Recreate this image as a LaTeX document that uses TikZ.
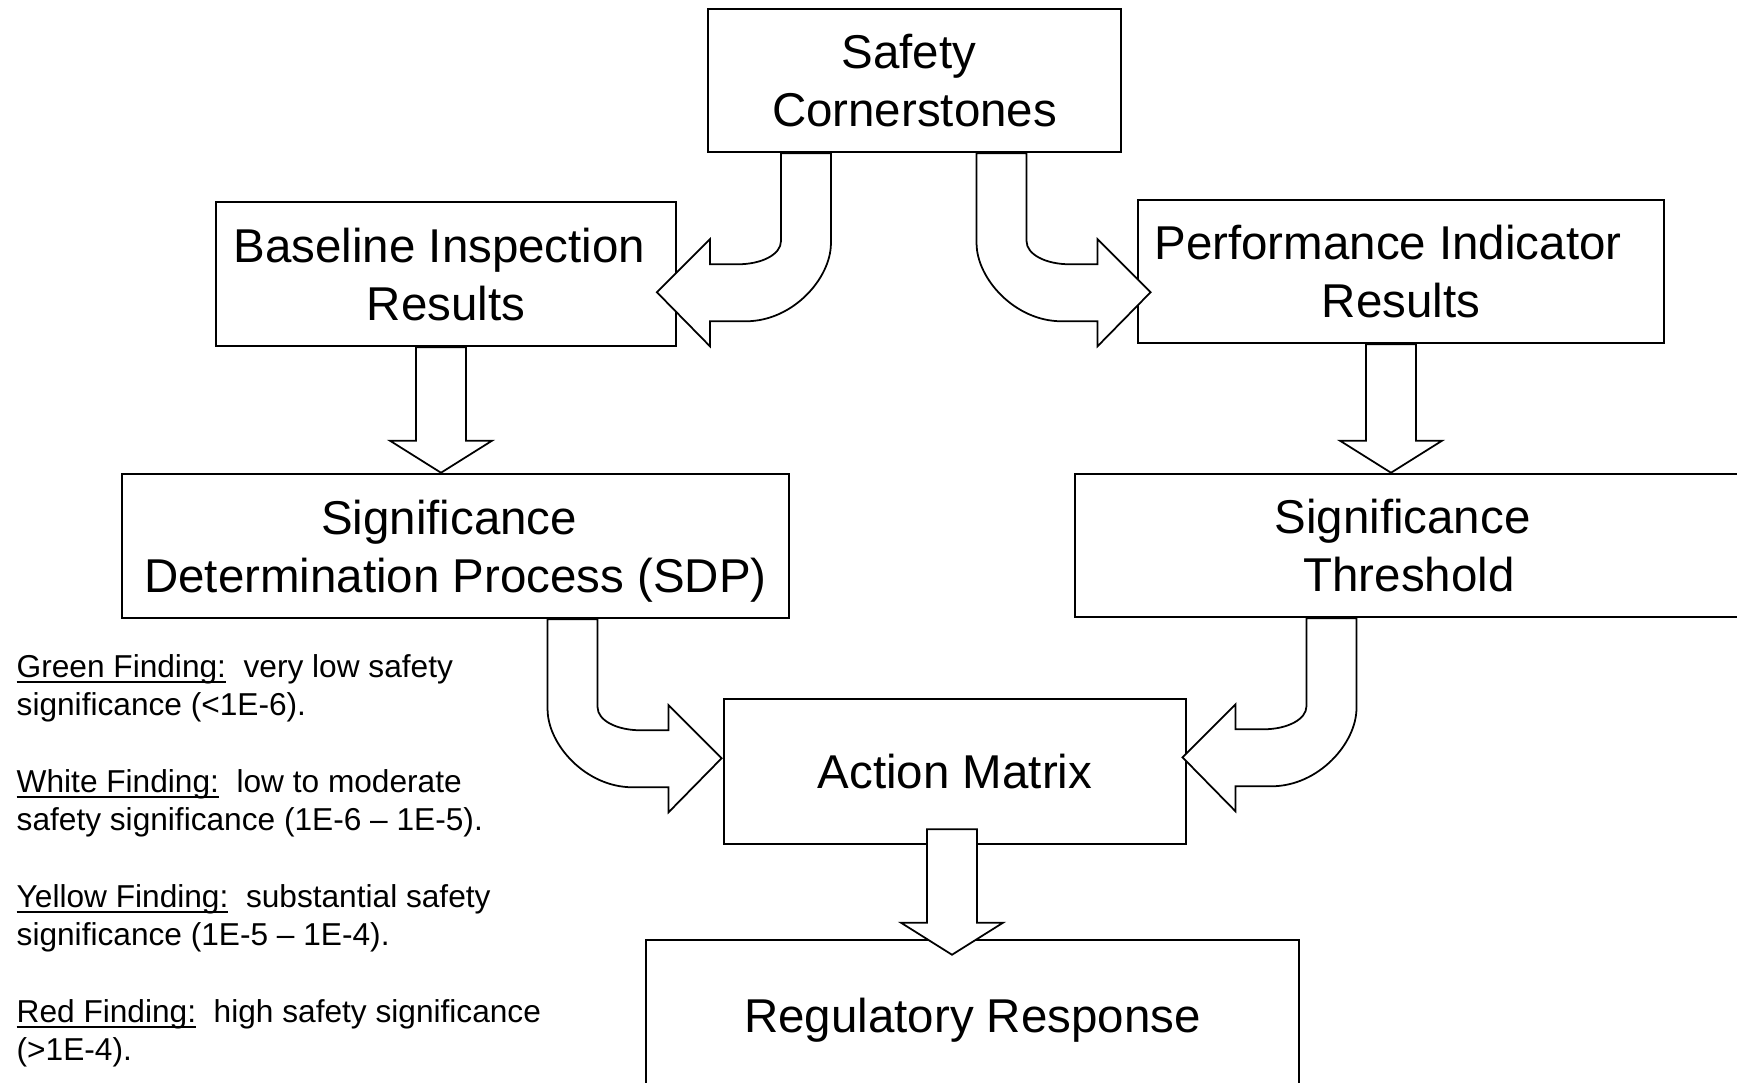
\documentclass[tikz,border=0pt]{standalone}
\usepackage{fontspec}
\setmainfont{Liberation Sans}
\usetikzlibrary{calc}
\tikzset{
  kasten/.style={draw,fill=white,line width=0.7pt,align=center,inner sep=0pt,text depth=0pt,font=\fontsize{13.5}{16.4}\selectfont},
  fatpfeil/.style={draw,fill=white,line width=0.5pt,line join=miter},
  legende/.style={anchor=base west,align=left,inner sep=0pt,font=\fontsize{9}{10.8}\selectfont},
}
% gerader Blockpfeil: #1 Start, #2 Ziel
\newcommand{\blockpfeil}[2]{%
  \draw[fatpfeil] ($(#1)+(-25,0)$) -- ($(#1 |- #2)+(-25,-32)$) -- ($(#1 |- #2)+(-51,-32)$) -- (#1 |- #2)
    -- ($(#1 |- #2)+(51,-32)$) -- ($(#1 |- #2)+(25,-32)$) -- ($(#1)+(25,0)$) -- cycle;}
% gebogener Blockpfeil: #1 Start, #2 Richtung (1 rechts, -1 links)
\newcommand{\bogenpfeil}[2]{%
  \draw[fatpfeil,shift={(#1)},xscale=#2] (25,0) -- (25,88) .. controls (25,101) and (44,111) .. (68,111)
    -- (96,111) -- (96,86) -- (149,139) -- (96,193) -- (96,168) -- (60,168)
    .. controls (13,168) and (-25,125) .. (-25,90) -- (-25,0) -- cycle;}
\newcommand{\unter}[1]{\underline{\smash{#1}}}

\begin{document}
\begin{tikzpicture}[x=0.01cm,y=-0.01cm]
  \useasboundingbox (0,0) rectangle (1737,1082);
  \clip (0,0) rectangle (1737,1082);
  % Kaesten
  \node[kasten,minimum width=4.13cm,minimum height=1.43cm] (safety) at (914.5,80.5) {Safety\hspace*{0.11cm}\\Cornerstones};
  \node[kasten,minimum width=4.60cm,minimum height=1.44cm] (base) at (446,274) {Baseline Inspection\hspace*{0.13cm}\\Results};
  \node[kasten,minimum width=5.26cm,minimum height=1.43cm] (perf) at (1401,271.5) {Performance Indicator\hspace*{0.26cm}\\Results};
  \node[kasten,minimum width=6.67cm,minimum height=1.44cm] (sdp) at (455.5,546) {Significance\hspace*{0.13cm}\\Determination Process (SDP)};
  \node[kasten,minimum width=6.68cm,minimum height=1.43cm] (thr) at (1409,545.5) {Significance\hspace*{0.13cm}\\Threshold};
  \node[kasten,minimum width=4.62cm,minimum height=1.45cm] (am) at (955,771.5) {Action Matrix};
  \node[kasten,minimum width=6.53cm,minimum height=1.50cm] (reg) at (972.5,1015) {Regulatory Response};
  % Pfeile
  \bogenpfeil{[xshift=-1.085cm]safety.south}{-1}
  \bogenpfeil{[xshift=0.87cm]safety.south}{1}
  \bogenpfeil{[xshift=1.17cm]sdp.south}{1}
  \bogenpfeil{[xshift=-0.775cm]thr.south}{-1}
  \coordinate (b1) at ([xshift=-0.05cm]base.south);
  \coordinate (p1) at ([xshift=-0.1cm]perf.south);
  \coordinate (a1) at ([xshift=-0.03cm,yshift=0.16cm]am.south);
  \coordinate (r1) at ([yshift=-0.16cm]reg.north);
  \blockpfeil{b1}{sdp.north}
  \blockpfeil{p1}{thr.north}
  \blockpfeil{a1}{r1}
  % Legende
  \node[legende] (gruen) at (16,715) {\unter{Green Finding:}\ \ very low safety\\significance (<1E-6).};
  \node[legende] (weiss) at (16,830) {\unter{White Finding:}\ \ low to moderate\\safety significance (1E-6 – 1E-5).};
  \node[legende] (gelb) at (16,945) {\unter{Yellow Finding:}\ \ substantial safety\\significance (1E-5 – 1E-4).};
  \node[legende] (rot) at (16,1060) {\unter{Red Finding:}\ \ high safety significance\\(>1E-4).};
\end{tikzpicture}
\end{document}
